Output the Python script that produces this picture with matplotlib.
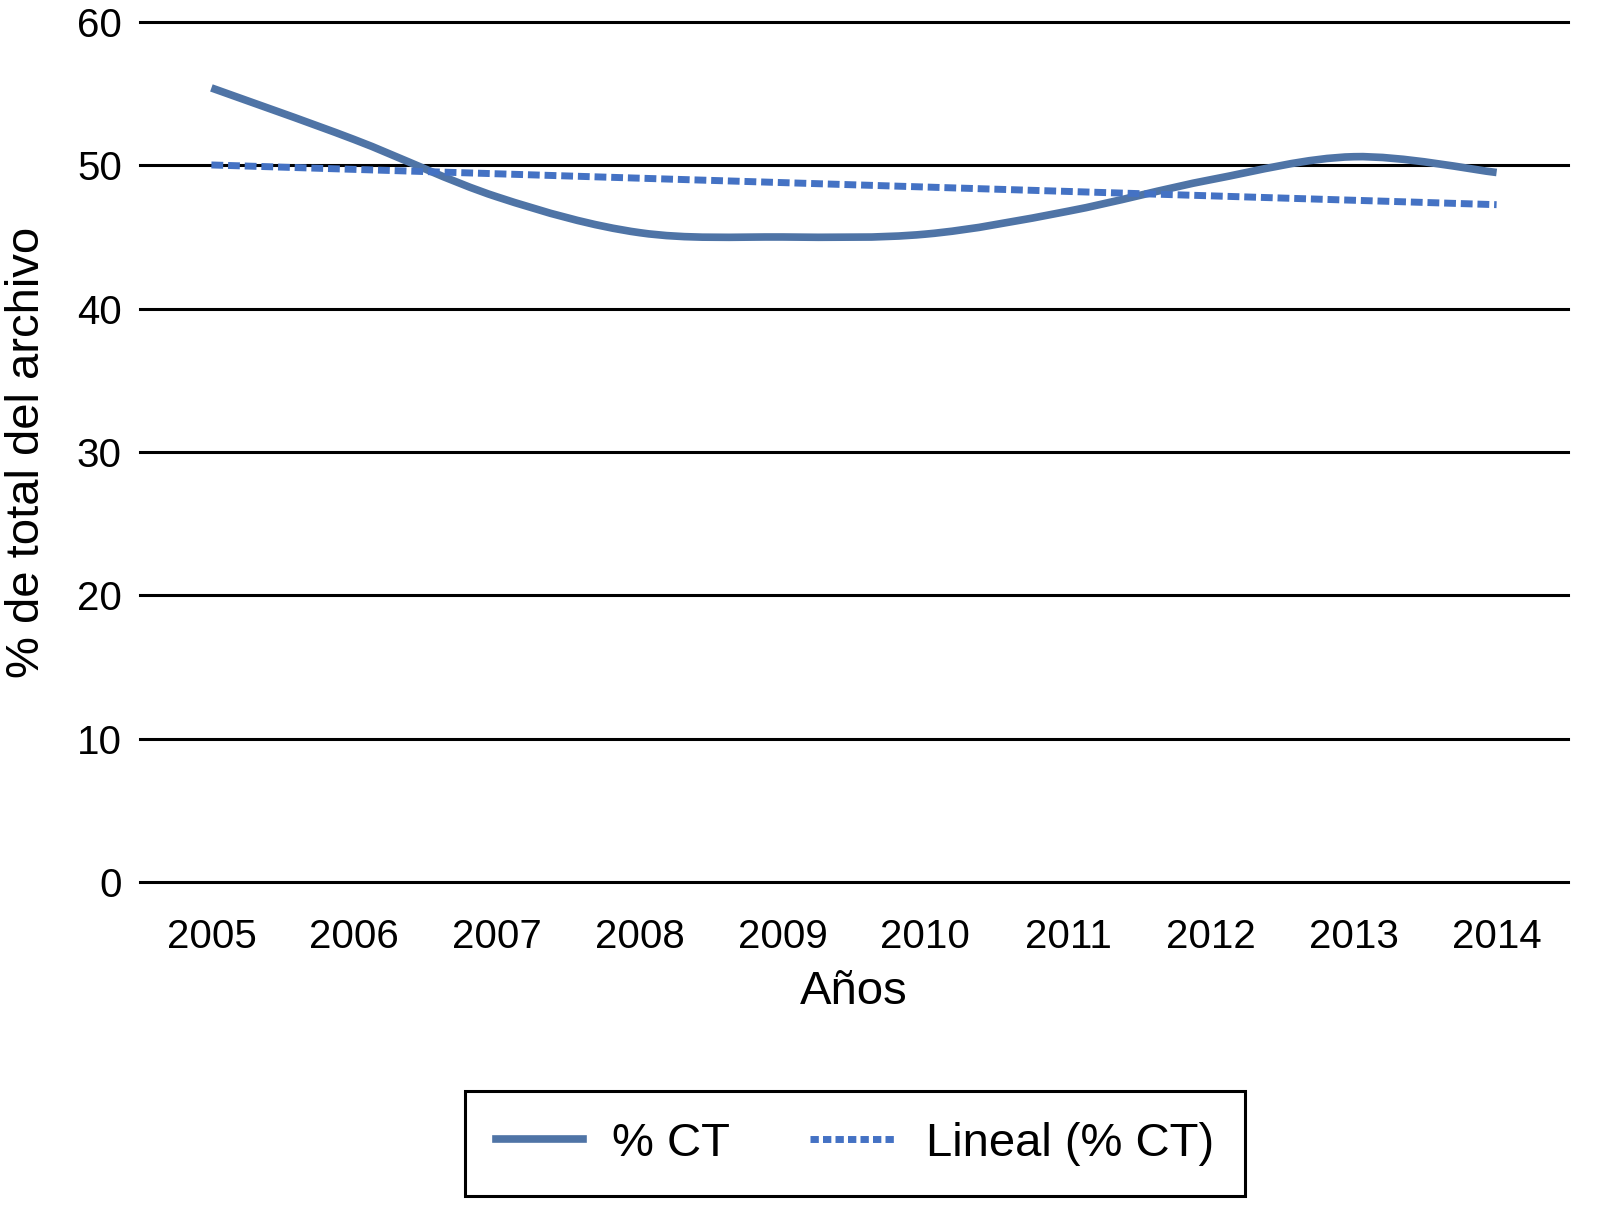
import matplotlib
matplotlib.use("Agg")
import matplotlib.pyplot as plt
from matplotlib.path import Path
from matplotlib.patches import PathPatch
from matplotlib.lines import Line2D
from matplotlib import font_manager
import numpy as np

# Data
years = ["2005", "2006", "2007", "2008", "2009", "2010", "2011", "2012", "2013", "2014"]
pct_ct = [55.4, 51.8, 47.8, 45.3, 45.0, 45.2, 46.8, 49.0, 50.6, 49.5]

y_ticks = [0, 10, 20, 30, 40, 50, 60]

solid_color = "#4F74A6"
trend_color = "#4472C4"

# Narrow font for the labels if there is one, else Liberation Sans
narrow = "Liberation Sans"
try:
    font_manager.findfont("Liberation Sans Narrow", fallback_to_default=False)
    narrow = "Liberation Sans Narrow"
except Exception:
    pass
label_size = 36 if narrow != "Liberation Sans" else 34

def smooth_path(xs, ys):
    # Bezier path through the points (like a smoothed Excel line)
    pts = np.column_stack([xs, ys])
    verts = [pts[0]]
    codes = [Path.MOVETO]
    n = len(pts)
    for i in range(n - 1):
        p0 = pts[i - 1] if i > 0 else pts[i]
        p1 = pts[i]
        p2 = pts[i + 1]
        p3 = pts[i + 2] if i + 2 < n else pts[i + 1]
        c1 = p1 + (p2 - p0) / 6.0
        c2 = p2 - (p3 - p1) / 6.0
        verts += [c1, c2, p2]
        codes += [Path.CURVE4] * 3
    return Path(verts, codes)

fig = plt.figure(figsize=(16, 12.21), dpi=100)
ax = fig.add_axes([0.0875, 0.2776, 0.8925, 0.7044])

x = np.arange(len(years))

# Smoothed main series
patch = PathPatch(smooth_path(x, pct_ct), facecolor="none", edgecolor=solid_color,
                  lw=5.5, capstyle="butt", joinstyle="round", zorder=3)
ax.add_patch(patch)

# Linear trend line
coef = np.polyfit(x, pct_ct, 1)
trend = np.polyval(coef, x)
ax.plot(x, trend, color=trend_color, lw=5, dashes=(1.7, 0.7),
        dash_capstyle="butt", zorder=4)

ax.set_xlim(-0.5, 9.5)
ax.set_ylim(0, 60)
ax.set_yticks(y_ticks)
ax.set_xticks(x)
ax.set_xticklabels(years)

for yv in y_ticks:
    ax.axhline(yv, color="black", lw=2.2, zorder=1, clip_on=False)

for s in ax.spines.values():
    s.set_visible(False)
ax.tick_params(axis="both", length=0, labelsize=29)
ax.tick_params(axis="y", pad=13)
ax.tick_params(axis="x", pad=26)
for lab in ax.get_xticklabels() + ax.get_yticklabels():
    lab.set_fontfamily("Liberation Sans")

ax.set_xlabel("Años", fontsize=label_size, family=narrow, labelpad=10)
ax.set_ylabel("% de total del archivo", fontsize=label_size, family=narrow, labelpad=20)

handles = [Line2D([], [], color=solid_color, lw=5.5),
           Line2D([], [], color=trend_color, lw=5, dashes=(1.2, 0.6), dash_capstyle="butt")]
leg = fig.legend(handles, ["% CT", "Lineal (% CT)"], loc="center",
                 bbox_to_anchor=(855 / 1600, 1 - 1143.5 / 1221), ncol=2, frameon=True,
                 fancybox=False, framealpha=1,
                 prop={"family": narrow, "size": label_size},
                 handlelength=1.85, columnspacing=1.7, borderpad=0.65,
                 handletextpad=0.6, borderaxespad=0)
leg.get_frame().set_edgecolor("black")
leg.get_frame().set_linewidth(2.2)

fig.savefig("out.png", dpi=100, facecolor="white")
